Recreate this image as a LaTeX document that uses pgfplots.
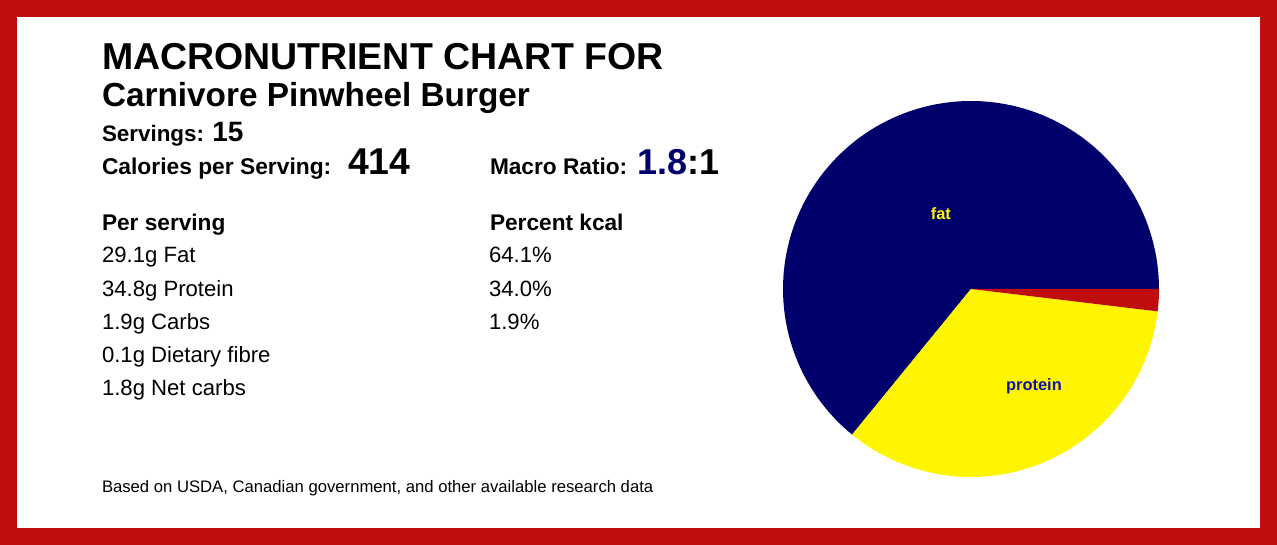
\documentclass[border=0pt]{standalone}
\usepackage{pgfplots}
\pgfplotsset{compat=1.18}
\usepackage{pgfplotstable}
\usepackage{fontspec}
\setmainfont{Liberation Sans}
\definecolor{frame}{RGB}{192,14,14}
\definecolor{navyc}{RGB}{0,0,108}
\definecolor{pieyel}{RGB}{255,245,0}
\definecolor{labblue}{RGB}{16,16,170}
\pgfplotstableread{
name pct
fat 64.1
protein 34.0
carbs 1.9
}\macros
\pgfplotstablegetelem{0}{pct}\of\macros \let\pfat\pgfplotsretval
\pgfplotstablegetelem{1}{pct}\of\macros \let\pprot\pgfplotsretval
\pgfplotstablegetelem{2}{pct}\of\macros \let\pcarb\pgfplotsretval
\pgfmathsetmacro\aA{\pfat*3.6}
\pgfmathsetmacro\aB{\aA+\pprot*3.6}
\pgfmathsetmacro\aC{\aB+\pcarb*3.6}
\newcommand\fs[1]{\fontsize{#1}{#1}\selectfont}
\begin{document}
\begin{tikzpicture}
\begin{scope}[x=0.75pt,y=0.75pt]
\fill[frame] (0,0) rectangle (1277,545);
\fill[white] (17,17) rectangle (1260,528);
\tikzset{every node/.style={inner sep=0pt,outer sep=0pt,anchor=base west}}
\node at (102,545-70) {\fs{28.1}\bfseries MACRONUTRIENT CHART FOR};
\node at (102,545-107) {\fs{25}\bfseries Carnivore Pinwheel Burger};
\node at (102,545-142) {\fs{16.8}\bfseries Servings: {\fs{21}15}};
\node at (102,545-175) {\fs{17.1}\bfseries Calories per Serving:};
\node at (348,545-175) {\fs{28}\bfseries 414};
\node at (490,545-175) {\fs{17}\bfseries Macro Ratio:};
\node at (637,545-175) {\fs{27}\bfseries\textcolor{navyc}{1.8}:1};
\node at (102,545-231) {\fs{17}\bfseries Per serving};
\node at (490,545-231) {\fs{17}\bfseries Percent kcal};
\node at (102,545-263) {\fs{16.6}29.1g Fat};
\node at (102,545-297) {\fs{16.6}34.8g Protein};
\node at (102,545-330) {\fs{16.6}1.9g Carbs};
\node at (102,545-363) {\fs{16.6}0.1g Dietary fibre};
\node at (102,545-396) {\fs{16.6}1.8g Net carbs};
\node at (489,545-263) {\fs{16.6}64.1\%};
\node at (489,545-297) {\fs{16.6}34.0\%};
\node at (489,545-330) {\fs{16.6}1.9\%};
\node at (102,545-493) {\fs{12.5}Based on USDA, Canadian government, and other available research data};
\end{scope}
\begin{axis}[at={(728.25pt,192pt)},anchor=center,scale only axis,width=282pt,height=282pt,
  xmin=-1,xmax=1,ymin=-1,ymax=1,hide axis,clip=false]
\addplot[fill=navyc,draw=none,domain=0:\aA,samples=120] ({cos(x)},{sin(x)}) -- (axis cs:0,0) -- cycle;
\addplot[fill=pieyel,draw=none,domain=\aA:\aB,samples=80] ({cos(x)},{sin(x)}) -- (axis cs:0,0) -- cycle;
\addplot[fill=frame,draw=none,domain=\aB:\aC,samples=10] ({cos(x)},{sin(x)}) -- (axis cs:0,0) -- cycle;
\node[text=pieyel,font=\fs{12.3}\bfseries] at (axis cs:-0.16,0.40) {fat};
\node[text=labblue,font=\fs{12.3}\bfseries] at (axis cs:0.335,-0.52) {protein};
\end{axis}
\end{tikzpicture}
\end{document}
